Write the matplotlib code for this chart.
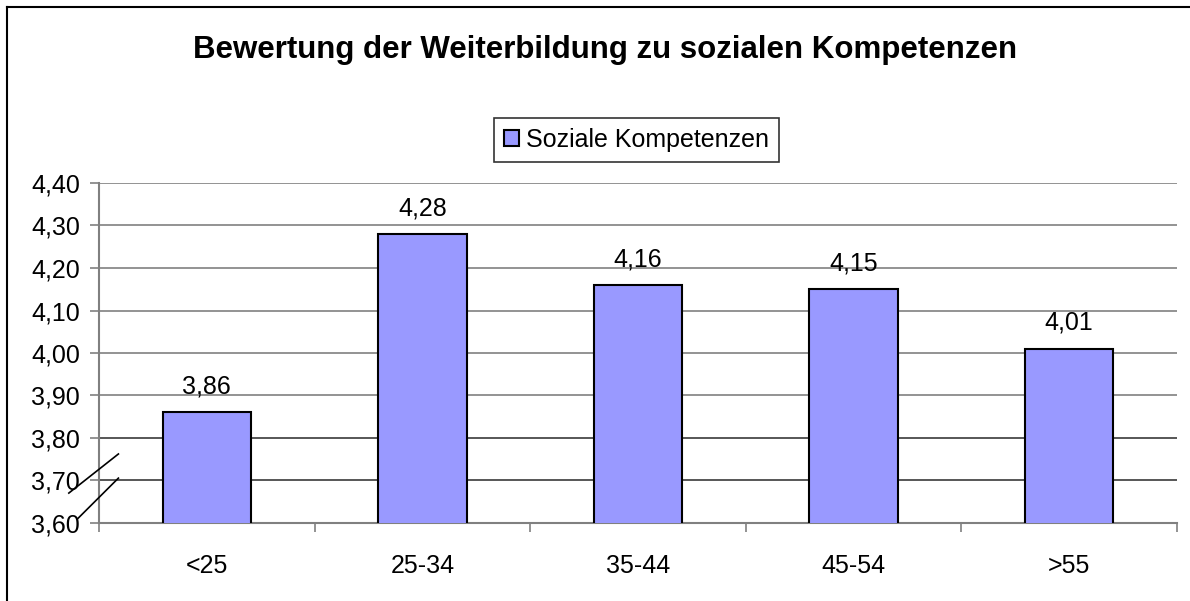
import matplotlib.pyplot as plt
from matplotlib.lines import Line2D
from matplotlib.ticker import FuncFormatter, FixedLocator

categories = ["<25", "25-34", "35-44", "45-54", ">55"]
values = [3.86, 4.28, 4.16, 4.15, 4.01]
series_name = "Soziale Kompetenzen"
title = "Bewertung der Weiterbildung zu sozialen Kompetenzen"
yticks = [3.6, 3.7, 3.8, 3.9, 4.0, 4.1, 4.2, 4.3, 4.4]

plt.rcParams['font.family'] = ['Liberation Sans', 'DejaVu Sans']

fig = plt.figure(figsize=(11.9, 6.01), dpi=100)
ax = fig.add_axes([99 / 1190, 78 / 601, 1078 / 1190, 340 / 601])

x = list(range(len(categories)))
bars = ax.bar(x, values, width=0.41, color='#9999FF', edgecolor='black',
              linewidth=1.5, label=series_name, zorder=3)

ax.set_xlim(-0.5, len(categories) - 0.5)
ax.set_ylim(3.6, 4.4)
ax.set_yticks(yticks)
ax.yaxis.set_major_formatter(FuncFormatter(lambda v, p: f"{v:.2f}".replace('.', ',')))
for t in yticks[1:]:
    c = '#3a3a3a' if t in (3.7, 3.8) else '#808080'
    ax.axhline(t, color=c, linewidth=1.2, zorder=0)

ax.set_xticks(x)
ax.set_xticklabels(categories)
ax.xaxis.set_minor_locator(FixedLocator([i - 0.5 for i in range(len(categories) + 1)]))
ax.tick_params(axis='x', which='major', length=0, pad=22, labelsize=18)
ax.tick_params(axis='x', which='minor', length=6.5, color='#808080', width=1.2)
ax.tick_params(axis='y', length=6.5, color='#808080', width=1.2, labelsize=18, pad=7)

for s in ['top', 'right']:
    ax.spines[s].set_visible(False)
for s in ['left', 'bottom']:
    ax.spines[s].set_color('#808080')
    ax.spines[s].set_linewidth(1.5)

for b, v in zip(bars, values):
    ax.annotate(f"{v:.2f}".replace('.', ','), (b.get_x() + b.get_width() / 2, v),
                xytext=(0, 10), textcoords='offset points', ha='center', va='bottom',
                fontsize=18)

# axis break marks
for (x0, y0, x1, y1) in [(-0.028, 0.088, 0.018, 0.203), (-0.020, 0.012, 0.018, 0.132)]:
    ax.add_line(Line2D([x0, x1], [y0, y1], transform=ax.transAxes, color='black',
                       linewidth=1.2, clip_on=False, zorder=5))

fig.text(605 / 1190, 1 - 50 / 601, title, ha='center', va='center', fontsize=22.5,
         fontweight='bold')

leg = fig.legend(handles=[bars], labels=[series_name], loc='center',
                 bbox_to_anchor=(636.5 / 1190, 1 - 140 / 601), fontsize=18,
                 frameon=True, fancybox=False, handlelength=0.6, handleheight=0.6,
                 handletextpad=0.3, borderpad=0.4, borderaxespad=0)
leg.get_frame().set_edgecolor('black')
leg.get_frame().set_linewidth(1.2)

# chart border (left and top only visible)
fig.add_artist(Line2D([7 / 1190, 7 / 1190], [0, 1 - 7 / 601], color='black', linewidth=1.5))
fig.add_artist(Line2D([7 / 1190, 1], [1 - 7 / 601, 1 - 7 / 601], color='black', linewidth=1.5))

fig.savefig('out.png', dpi=100)
